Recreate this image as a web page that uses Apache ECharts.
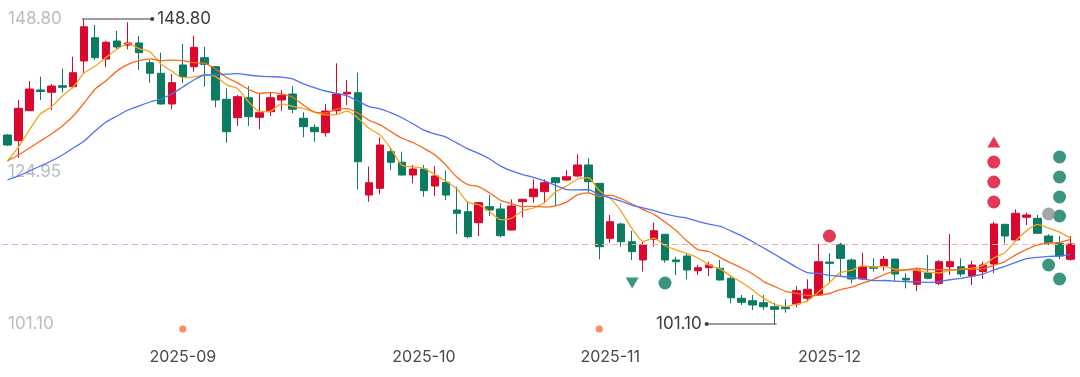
<!DOCTYPE html>
<html>
<head>
<meta charset="utf-8">
<script src="https://cdn.jsdelivr.net/npm/echarts@6/dist/echarts.min.js"></script>
<style>
  html, body { margin: 0; padding: 0; background: #fff; }
  #chart { width: 1080px; height: 377px; }
</style>
</head>
<body>
<div id="chart"></div>
<script>
// trading days, 2025-08-08 .. 2025-12-31
const dates = [
  '2025-08-08','2025-08-11','2025-08-12','2025-08-13','2025-08-14','2025-08-15','2025-08-18','2025-08-19','2025-08-20','2025-08-21',
  '2025-08-22','2025-08-25','2025-08-26','2025-08-27','2025-08-28','2025-08-29','2025-09-01','2025-09-02','2025-09-03','2025-09-04',
  '2025-09-05','2025-09-08','2025-09-09','2025-09-10','2025-09-11','2025-09-12','2025-09-15','2025-09-16','2025-09-17','2025-09-18',
  '2025-09-19','2025-09-22','2025-09-23','2025-09-24','2025-09-25','2025-09-26','2025-09-29','2025-09-30','2025-10-09','2025-10-10',
  '2025-10-13','2025-10-14','2025-10-15','2025-10-16','2025-10-17','2025-10-20','2025-10-21','2025-10-22','2025-10-23','2025-10-24',
  '2025-10-27','2025-10-28','2025-10-29','2025-10-30','2025-10-31','2025-11-03','2025-11-04','2025-11-05','2025-11-06','2025-11-07',
  '2025-11-10','2025-11-11','2025-11-12','2025-11-13','2025-11-14','2025-11-17','2025-11-18','2025-11-19','2025-11-20','2025-11-21',
  '2025-11-24','2025-11-25','2025-11-26','2025-11-27','2025-11-28','2025-12-01','2025-12-02','2025-12-03','2025-12-04','2025-12-05',
  '2025-12-08','2025-12-09','2025-12-10','2025-12-11','2025-12-12','2025-12-15','2025-12-16','2025-12-17','2025-12-18','2025-12-19',
  '2025-12-22','2025-12-23','2025-12-24','2025-12-25','2025-12-26','2025-12-29','2025-12-30','2025-12-31'
];

const opens = [
  130.66,129.77,134.46,137.70,137.34,138.37,138.21,142.23,145.87,142.54,
  145.36,144.73,145.05,141.96,140.31,135.51,141.61,141.34,142.75,141.34,
  136.24,133.36,136.49,133.43,134.30,136.13,137.07,133.27,131.86,131.02,
  134.46,137.07,137.27,121.27,122.32,128.05,126.39,124.40,125.34,122.68,
  123.26,118.93,118.66,116.94,119.45,119.09,115.80,120.23,121.01,121.79,
  123.98,123.62,124.25,125.97,123.10,114.50,116.74,113.97,111.11,114.35,
  115.13,111.11,111.73,109.44,109.91,109.81,108.25,105.12,104.74,104.43,
  103.80,103.71,104.23,105.12,105.63,110.79,113.56,111.11,108.14,110.06,
  110.17,111.26,108.25,107.31,109.12,107.46,110.06,110.06,108.61,109.28,
  110.48,116.69,114.24,117.79,117.63,114.86,113.72,111.22
];
const closes = [
  129.09,134.83,137.85,137.46,138.32,138.12,140.40,147.59,142.75,145.16,
  144.42,145.05,143.53,140.31,135.51,138.84,139.78,144.37,141.71,136.13,
  131.17,136.65,133.52,134.15,136.49,136.87,134.68,131.96,131.17,134.41,
  137.07,137.34,126.48,123.20,129.09,126.39,124.40,125.34,121.95,124.25,
  121.27,118.41,114.75,120.07,118.93,114.91,119.55,120.60,122.21,123.20,
  123.20,124.14,125.97,123.35,113.19,117.10,113.97,112.41,113.46,115.69,
  111.11,110.84,109.55,109.91,110.33,107.98,105.21,104.49,104.07,103.80,
  103.39,103.49,106.31,106.53,110.84,110.59,111.37,108.14,110.06,109.81,
  111.22,108.92,107.98,109.55,108.25,110.84,110.84,108.92,110.33,110.33,
  116.74,114.86,118.41,118.15,115.29,113.81,111.73,113.61
];
const lows = [
  128.94,127.06,134.41,136.13,134.57,137.27,137.96,140.31,142.39,141.25,
  143.95,144.06,140.82,138.84,135.43,134.68,138.79,140.56,138.21,134.99,
  129.45,132.07,132.07,131.55,133.63,134.46,134.05,130.30,129.61,130.39,
  133.78,135.35,122.17,120.23,121.38,125.18,124.32,123.10,121.01,121.12,
  120.49,115.17,114.50,114.86,117.99,114.66,115.72,117.79,120.07,119.98,
  119.55,123.46,124.04,121.54,111.22,113.81,113.19,111.11,109.28,113.19,
  110.69,108.76,108.09,108.76,108.61,107.90,104.34,104.07,103.29,103.29,
  101.10,102.87,103.71,104.59,105.50,107.71,108.61,107.46,107.98,109.28,
  109.44,107.71,106.68,106.26,108.09,107.20,108.76,108.50,107.20,108.14,
  109.03,113.72,113.97,116.58,115.20,113.46,111.22,111.00
];
const highs = [
  130.81,136.13,139.10,139.78,138.63,141.03,142.90,148.80,147.86,145.36,
  146.97,148.28,146.14,142.39,143.53,140.20,144.89,146.19,144.47,141.45,
  137.96,136.91,138.32,137.07,137.43,137.70,138.32,134.21,132.33,135.51,
  141.87,139.26,140.40,125.70,130.30,128.73,128.05,125.97,125.97,125.81,
  125.07,122.57,120.33,120.18,121.27,119.98,120.60,120.65,123.73,123.73,
  124.00,125.18,127.64,127.01,123.15,118.15,116.94,115.69,113.97,116.94,
  115.18,111.62,112.16,110.33,110.84,111.11,108.61,105.63,105.63,105.63,
  104.43,104.96,107.04,108.09,113.61,112.16,113.81,111.37,112.25,111.37,
  111.73,111.30,109.03,109.81,111.89,111.11,115.18,111.37,111.00,110.84,
  117.10,116.74,119.04,118.51,118.15,115.13,114.86,114.86
];

const ma5 = [
  126.59,128.78,131.44,133.94,135.04,136.76,138.16,140.38,141.44,142.80,
  144.06,144.99,144.18,143.69,141.76,140.65,139.59,139.76,140.04,139.80,
  138.50,137.90,135.84,134.32,134.40,135.54,135.14,134.83,134.23,133.82,
  133.86,134.39,133.29,131.70,130.64,128.50,125.91,125.68,125.43,124.47,
  123.44,122.24,120.13,119.75,118.69,117.41,117.64,118.81,119.24,120.09,
  121.75,122.67,123.74,123.97,121.97,120.75,118.72,116.00,114.03,114.53,
  113.33,112.70,112.13,111.42,110.35,109.72,108.60,107.58,106.42,105.11,
  104.19,103.85,104.21,104.70,106.11,107.55,109.13,109.49,110.20,109.99,
  110.12,109.63,109.60,109.50,109.18,109.11,109.49,109.68,109.84,110.25,
  111.43,112.24,114.13,115.70,116.69,116.10,115.48,114.52
];
const ma10 = [
  126.59,127.53,128.62,129.72,130.81,132.07,133.63,135.66,137.85,139.16,
  140.69,141.71,142.28,142.57,142.28,142.36,142.29,141.97,141.87,140.97,
  139.64,138.80,137.80,137.18,137.28,137.08,136.57,135.33,134.28,134.11,
  134.70,134.77,134.06,132.97,132.23,131.18,130.15,129.49,128.57,127.55,
  125.97,124.08,122.91,122.59,121.58,120.43,119.94,119.47,119.50,119.39,
  119.58,120.16,121.28,121.61,121.03,121.25,120.69,119.87,119.00,118.25,
  117.04,115.71,114.07,112.72,112.44,111.53,110.65,109.86,108.92,107.73,
  106.96,106.22,105.90,105.56,105.61,105.87,106.49,106.85,107.45,108.05,
  108.84,109.38,109.55,109.85,109.59,109.61,109.56,109.64,109.67,109.72,
  110.27,110.86,111.91,112.77,113.47,113.77,113.86,114.33
];
const ma20 = [
  123.62,124.25,125.03,125.81,126.59,127.53,128.62,129.72,131.28,132.69,
  133.63,134.57,135.19,135.82,136.29,137.07,138.16,139.26,140.04,140.06,
  140.17,140.26,140.04,139.87,139.78,139.72,139.43,138.65,138.07,137.54,
  137.17,136.78,135.93,135.08,134.75,134.13,133.36,132.41,131.42,130.83,
  130.33,129.42,128.48,127.78,126.90,125.80,125.05,124.48,124.03,123.47,
  122.78,122.12,122.09,122.10,121.30,120.84,120.32,119.67,119.25,118.82,
  118.31,117.93,117.67,117.16,116.73,116.39,115.67,114.87,113.96,112.99,
  112.00,110.97,109.98,109.14,109.02,108.70,108.57,108.36,108.19,107.89,
  107.90,107.80,107.72,107.70,107.60,107.74,108.02,108.25,108.56,108.89,
  109.55,110.12,110.73,111.31,111.53,111.69,111.71,111.98
];

const monthLabels = ['2025-09', '2025-10', '2025-11', '2025-12'];
const priceLabels = [101.10, 124.95, 148.80];
const lastClose = 113.61;

// [index, price, direction of the label]
const extremes = [[7, 148.80, 1], [70, 101.10, -1]];

// signal markers: [index, price]
const redUpSignals = [[90, 129.56]];
const redDots = [[90, 126.43], [90, 123.31], [90, 120.18], [75, 114.86]];
const greenDownSignals = [[57, 107.51]];
const greenDots = [[96, 127.22], [96, 124.09], [96, 120.96], [96, 117.99], [95, 110.33], [96, 108.14], [60, 107.51]];
const grayDots = [[95, 118.30]];
const eventDots = [[16, 100.32], [54, 100.32]];

const UP = '#d9082c';
const DOWN = '#0b7b62';

const monthStarts = monthLabels.map(m => dates.findIndex(d => d.startsWith(m)));
const candles = dates.map((d, i) => [opens[i], closes[i], lows[i], highs[i]]);

const chart = echarts.init(document.getElementById('chart'), null, { renderer: 'canvas' });

const maLine = (name, data, color) => ({
  name,
  type: 'line',
  data,
  symbol: 'none',
  smooth: 0.2,
  lineStyle: { color, width: 1.3 },
  z: 3,
});

const dots = (data, color, size, symbol, rotate) => ({
  type: 'scatter',
  data,
  symbol: symbol || 'circle',
  symbolSize: size,
  symbolRotate: rotate || 0,
  itemStyle: { color },
  clip: false,
  silent: true,
  z: 5,
});

const option = {
  animation: false,
  backgroundColor: '#ffffff',
  grid: { left: 2, right: 4, top: 19, bottom: 53 },
  xAxis: {
    type: 'category',
    data: dates,
    boundaryGap: true,
    axisLine: { show: false },
    axisTick: { show: false },
    splitLine: { show: false },
    axisLabel: {
      interval: (idx) => monthStarts.includes(idx),
      formatter: (v) => v.slice(0, 7),
      color: '#474752',
      fontSize: 16,
      fontFamily: 'Inter',
      margin: 25,
    },
  },
  yAxis: {
    type: 'value',
    min: 101.10,
    max: 148.80,
    axisLine: { show: false },
    axisTick: { show: false },
    splitLine: { show: false },
    axisLabel: {
      inside: true,
      customValues: priceLabels,
      formatter: (v) => v.toFixed(2),
      color: '#b9bcc5',
      fontSize: 17,
      fontFamily: 'Inter',
      margin: 6,
      padding: [5, 0, 0, 0],
    },
  },
  series: [
    {
      type: 'candlestick',
      data: candles,
      barWidth: 8,
      itemStyle: {
        color: UP,
        color0: DOWN,
        borderColor: UP,
        borderColor0: DOWN,
        borderWidth: 1,
      },
      markLine: {
        silent: true,
        symbol: 'none',
        label: { show: false },
        lineStyle: { color: '#f6a9a9', type: [6, 4], width: 1 },
        data: [{ yAxis: lastClose }],
      },
      z: 2,
    },
    maLine('MA5', ma5, '#f7a21b'),
    maLine('MA10', ma10, '#fb6a1c'),
    maLine('MA20', ma20, '#4d72f2'),
    dots(redUpSignals, UP, [13, 11], 'triangle'),
    dots(redDots, UP, 13),
    dots(greenDownSignals, DOWN, [13, 11], 'triangle', 180),
    dots(greenDots, DOWN, 13),
    dots(grayDots, '#8d8d98', 13),
    dots(eventDots, '#ff6a33', 7),
    {
      type: 'custom',
      data: extremes,
      clip: false,
      silent: true,
      z: 10,
      renderItem: (params, api) => {
        const p = api.coord([api.value(0), api.value(1)]);
        const dir = api.value(2);
        const ex = p[0] + dir * 68;
        return {
          type: 'group',
          children: [
            { type: 'line', shape: { x1: p[0] - dir * 2, y1: p[1], x2: ex, y2: p[1] }, style: { stroke: '#3d3d47', lineWidth: 1 } },
            { type: 'circle', shape: { cx: ex, cy: p[1], r: 2 }, style: { fill: '#3d3d47' } },
            {
              type: 'text',
              style: {
                x: ex + dir * 5,
                y: p[1],
                text: api.value(1).toFixed(2),
                fill: '#3a3a44',
                font: '17px Inter',
                align: dir > 0 ? 'left' : 'right',
                verticalAlign: 'middle',
              },
            },
          ],
        };
      },
    },
  ],
};

chart.setOption(option);
</script>
</body>
</html>
